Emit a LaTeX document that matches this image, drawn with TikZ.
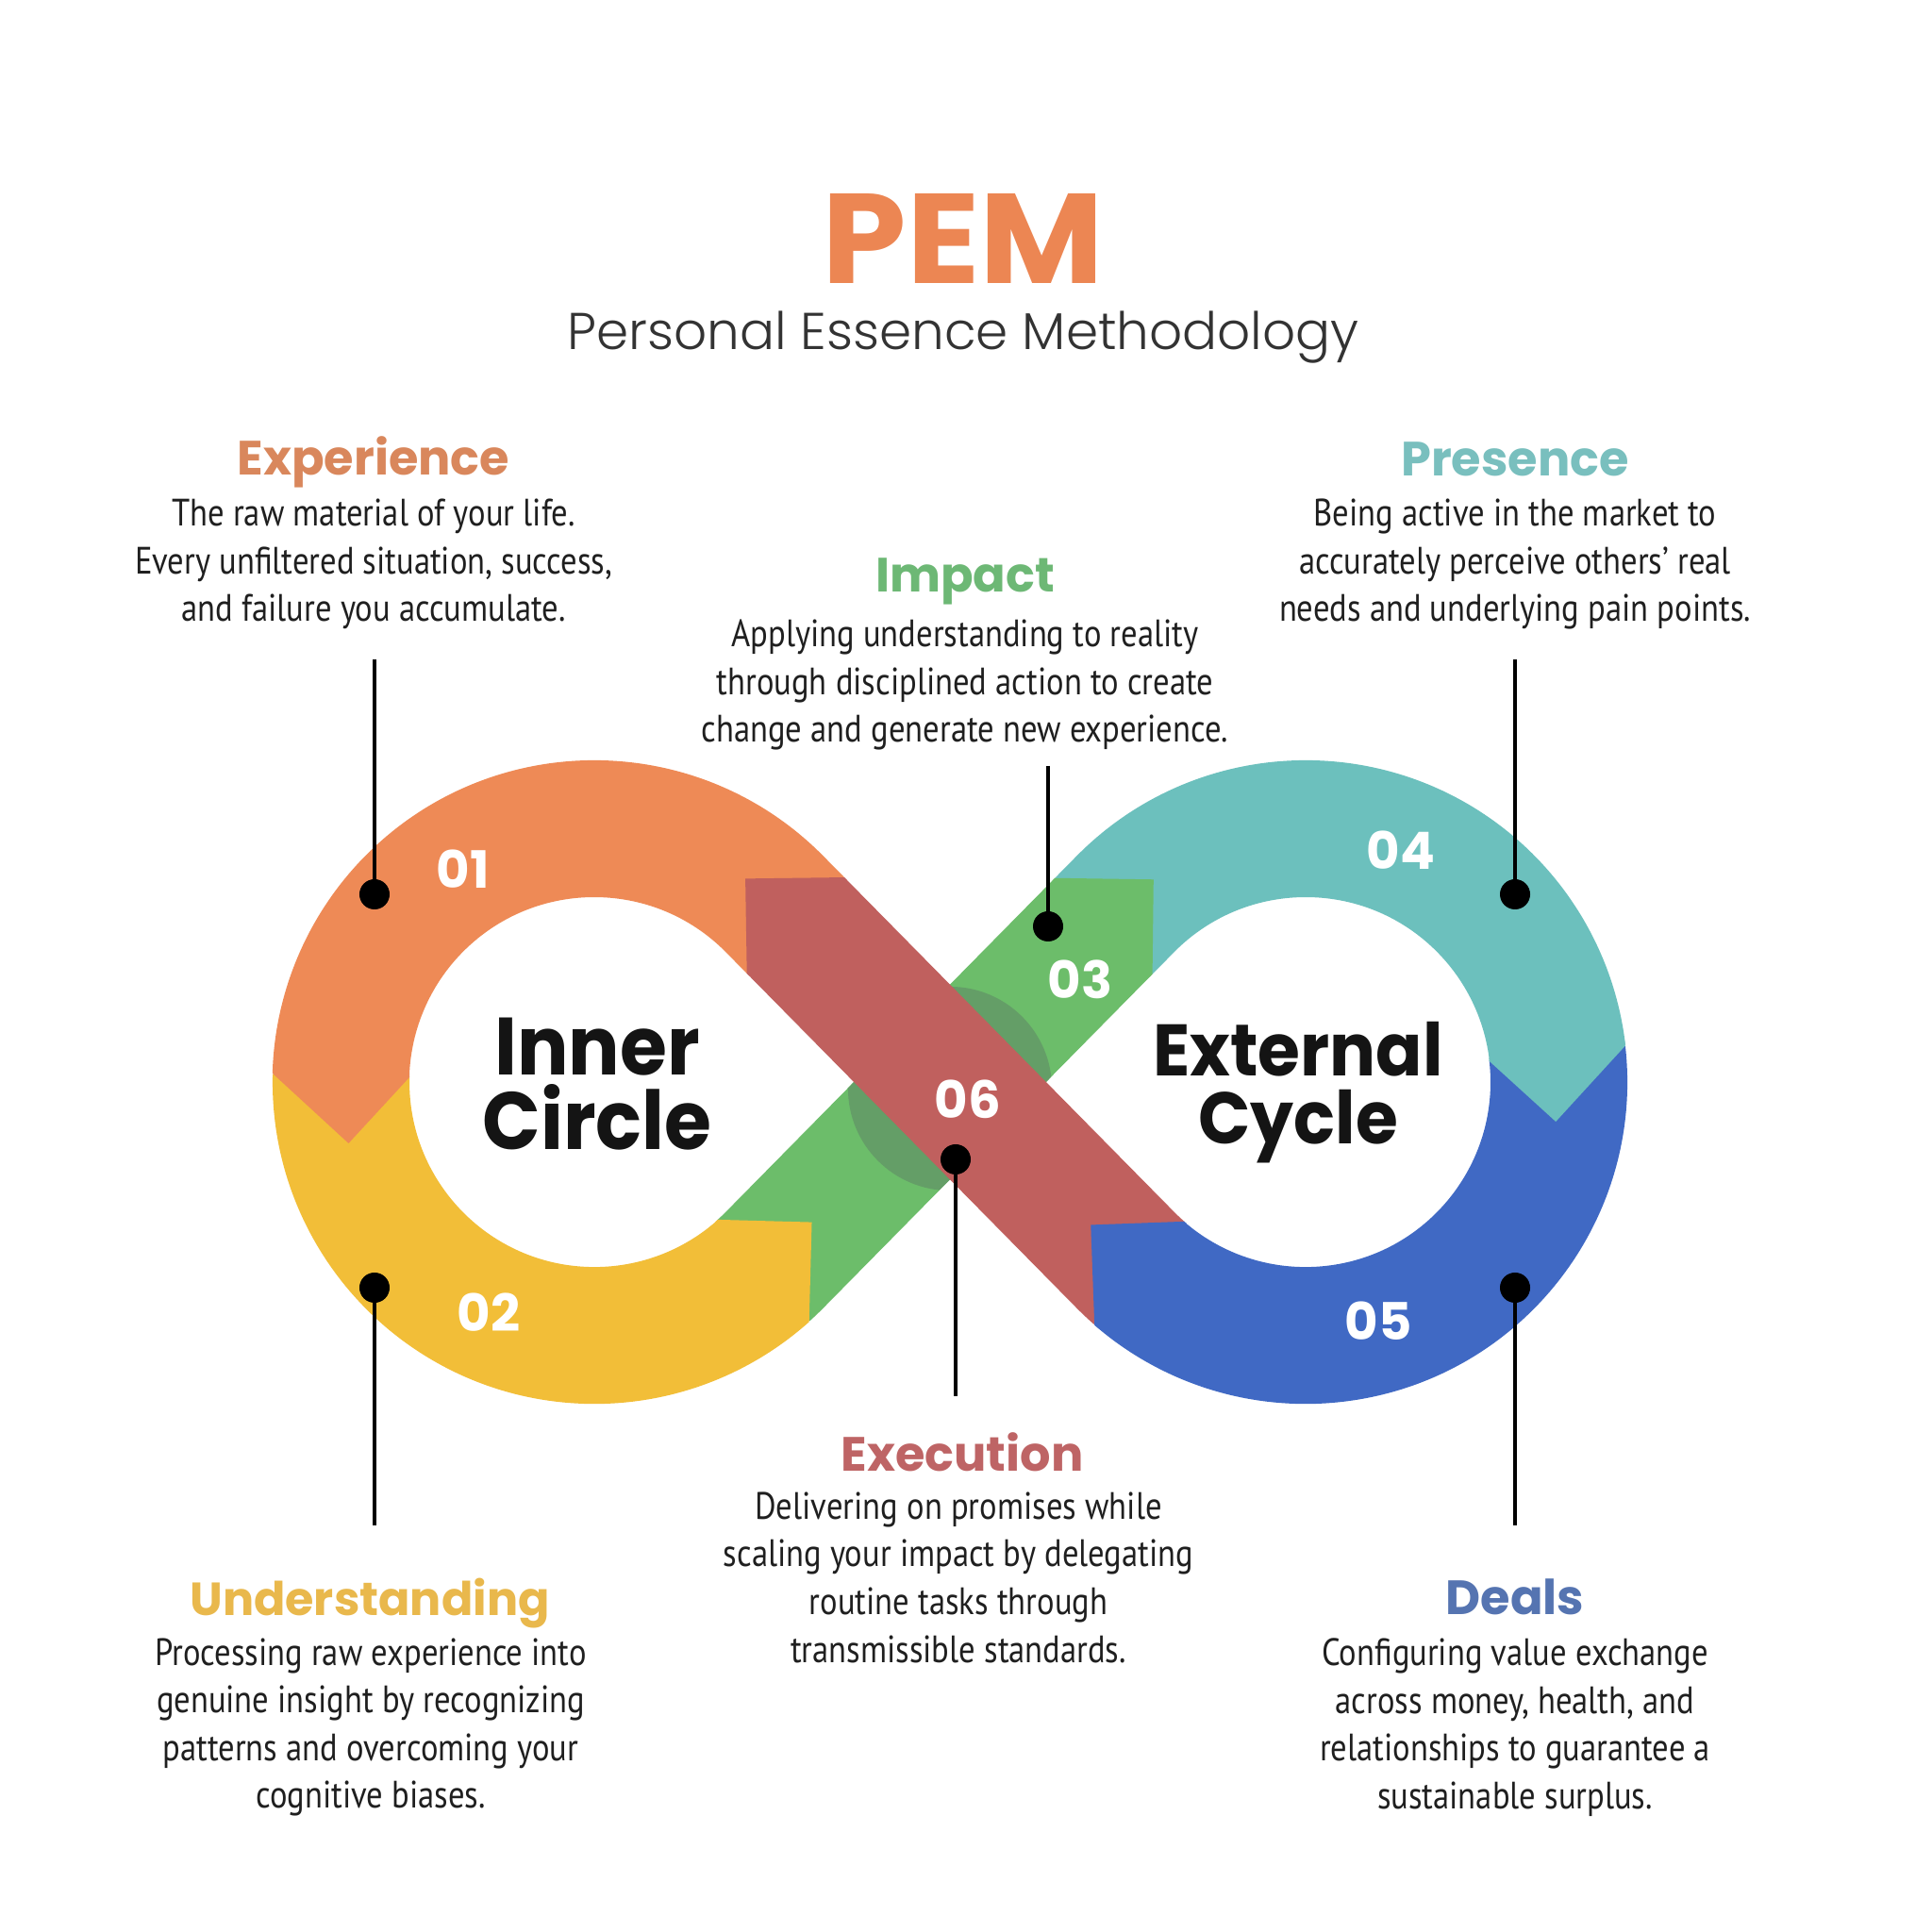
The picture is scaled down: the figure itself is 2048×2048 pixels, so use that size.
\documentclass[tikz,border=0pt]{standalone}
\usepackage{fontspec}
\setmainfont{PT Sans}
\newfontfamily\popf{Poppins}
\newfontfamily\popw[FakeStretch=1.06]{Poppins}
\IfFontExistsTF{Poppins Light}{\newfontfamily\popl{Poppins Light}}{\newfontfamily\popl{Poppins}}
\newfontfamily\bodyf[FakeStretch=0.855]{PT Sans}
\newfontfamily\popc[FakeStretch=0.94]{Poppins}
\usetikzlibrary{calc}
\definecolor{cOrange}{HTML}{EE8A56}
\definecolor{cYellow}{HTML}{F2BE38}
\definecolor{cGreen}{HTML}{6CBD6A}
\definecolor{cTeal}{HTML}{6CC0BD}
\definecolor{cBlue}{HTML}{4069C4}
\definecolor{cRed}{HTML}{C0605E}
\definecolor{cShadow}{HTML}{649E67}
\definecolor{hExp}{HTML}{D9875C}
\definecolor{hPre}{HTML}{79BFBE}
\definecolor{hImp}{HTML}{6DB875}
\definecolor{hExe}{HTML}{BE6465}
\definecolor{hUnd}{HTML}{E9B84C}
\definecolor{hDea}{HTML}{5574B1}
\definecolor{tPEM}{HTML}{EC8653}
\definecolor{tSub}{HTML}{333333}
\begin{document}
\begin{tikzpicture}[x=0.01cm,y=0.01cm,
  band/.style={line width=1.45cm, line cap=butt},
  numlabel/.style={font=\popf\bfseries\fontsize{15.5}{16}\selectfont, text=white},
  heading/.style={font=\popf\bfseries\fontsize{14.5}{16}\selectfont},
  body/.style={font=\bodyf\fontsize{11.5}{14.4}\selectfont, align=center, text=black!88},
  leader/.style={line width=1.4pt, draw=black},
  dotnode/.style={circle, fill=black, inner sep=0pt, minimum size=0.32cm},
  centertext/.style={font=\popc\bfseries, align=center, text=black!92}]
\useasboundingbox (0,0) rectangle (2048,2048);
\fill[white] (0,0) rectangle (2048,2048);

% ---- bands ----
\draw[band, cOrange] (843.33,1067.05) -- (821.22,1089.48) arc[start angle=44.59, end angle=178.5, radius=2.685cm];
\draw[band, cYellow] (361.59,908.03) arc[start angle=178.5, end angle=311.88, radius=2.685cm];
\draw[band, cGreen] (809.29,701.14) arc[start angle=311.88, end angle=315.41, radius=2.685cm] -- (1169.97,1066.33);
\draw[band, cTeal] (1169.97,1066.33) -- (1192.78,1089.48) arc[start angle=135.41, end angle=6.47, radius=2.685cm];
\draw[band, cBlue] (1650.79,931.25) arc[start angle=6.47, end angle=-131.03, radius=2.685cm];
\begin{scope}
  \clip (769.59,763.41) -- (872.85,661.63) -- (1244.41,1038.59) -- (1141.15,1140.37) -- cycle;
  \fill[cShadow] (1007,894) circle[radius=1.08cm];
\end{scope}
\draw[band, cRed] (1207.76,698.43) arc[start angle=-131.03, end angle=-135.41, radius=2.685cm] -- (843.33,1067.05);

% ---- arrow tips ----
\fill[cRed] (897.77,1115.09) -- (894.96,1117.94) -- (790.1,1116.6) -- (791.70,1016.16) -- (794.51,1013.31) -- cycle;
\fill[cOrange] (289.32,915.87) -- (289.12,909.93) -- (369.48,836.05) -- (434.07,906.13) -- (434.19,909.55) -- cycle;
\fill[cYellow] (853.27,643.26) -- (857.71,647.17) -- (860.53,752.40) -- (760.88,755.10) -- (758.33,752.85) -- cycle;
\fill[cGreen] (1115.53,1114.37) -- (1118.34,1117.22) -- (1222.8,1115.7) -- (1221.60,1015.44) -- (1218.79,1012.59) -- cycle;
\fill[cTeal] (1722.10,945.33) -- (1722.83,939.42) -- (1649.19,859.0) -- (1578.75,923.08) -- (1578.34,926.48) -- cycle;
\fill[cBlue] (1164.72,639.85) -- (1160.18,643.74) -- (1156.28,749.55) -- (1255.35,753.13) -- (1257.96,750.90) -- cycle;

% ---- numbers ----
\node[numlabel] (n01) at (491,1127) {01};
\node[numlabel] (n02) at (518,657) {02};
\node[numlabel] (n03) at (1145,1010) {03};
\node[numlabel] (n04) at (1485,1147) {04};
\node[numlabel] (n05) at (1461,648) {05};
\node[numlabel] (n06) at (1026,883) {06};

% ---- centre texts ----
\node[centertext, font=\popc\bfseries\fontsize{24.5}{22.5}\selectfont] (inner) at (633,899) {Inner\\Circle};
\node[centertext, font=\popc\bfseries\fontsize{22}{20.5}\selectfont] (external) at (1376,890) {External\\Cycle};

% ---- title ----
\node[font=\popw\bfseries\fontsize{38.5}{40}\selectfont, text=tPEM] (pem) at (1021,1795) {PEM};
\node[font=\popl\fontsize{15.6}{18}\selectfont, text=tSub] (sub) at (1021,1690) {Personal Essence Methodology};

% ---- headings ----
\node[heading, text=hExp] (hexp) at (396,1558) {Experience};
\node[heading, text=hPre] (hpre) at (1606,1561) {Presence};
\node[heading, text=hImp] (himp) at (1023,1432) {Impact};
\node[heading, text=hExe] (hexe) at (1020,509) {Execution};
\node[heading, text=hUnd, font=\popf\bfseries\fontsize{14}{16}\selectfont] (hund) at (392,348) {Understanding};
\node[heading, text=hDea] (hdea) at (1606,355) {Deals};

% ---- body texts ----
\node[body] (bexp) at (396,1450) {The raw material of your life.\\Every unfiltered situation, success,\\and failure you accumulate.};
\node[body] (bpre) at (1606,1450) {Being active in the market to\\accurately perceive others’ real\\needs and underlying pain points.};
\node[body] (bimp) at (1023,1322) {Applying understanding to reality\\through disciplined action to create\\change and generate new experience.};
\node[body] (bexe) at (1016,376) {Delivering on promises while\\scaling your impact by delegating\\routine tasks through\\transmissible standards.};
\node[body] (bund) at (393,217) {Processing raw experience into\\genuine insight by recognizing\\patterns and overcoming your\\cognitive biases.};
\node[body] (bdea) at (1606,217) {Configuring value exchange\\across money, health, and\\relationships to guarantee a\\sustainable surplus.};

% ---- leaders ----
\node[dotnode] (dexp) at (397,1100) {};
\node[dotnode] (dpre) at (1606,1100) {};
\node[dotnode] (dimp) at (1111,1066) {};
\node[dotnode] (dexe) at (1013,819) {};
\node[dotnode] (dund) at (397,683) {};
\node[dotnode] (ddea) at (1606,683) {};
\coordinate (lexp) at (397,1349);
\coordinate (lpre) at (1606,1349);
\coordinate (limp) at (1111,1236);
\coordinate (lexe) at (1013,568);
\coordinate (lund) at (397,431);
\coordinate (ldea) at (1606,431);
\draw[leader] (lexp) -- (dexp.center);
\draw[leader] (lpre) -- (dpre.center);
\draw[leader] (limp) -- (dimp.center);
\draw[leader] (dexe.center) -- (lexe);
\draw[leader] (dund.center) -- (lund);
\draw[leader] (ddea.center) -- (ldea);
\end{tikzpicture}
\end{document}
